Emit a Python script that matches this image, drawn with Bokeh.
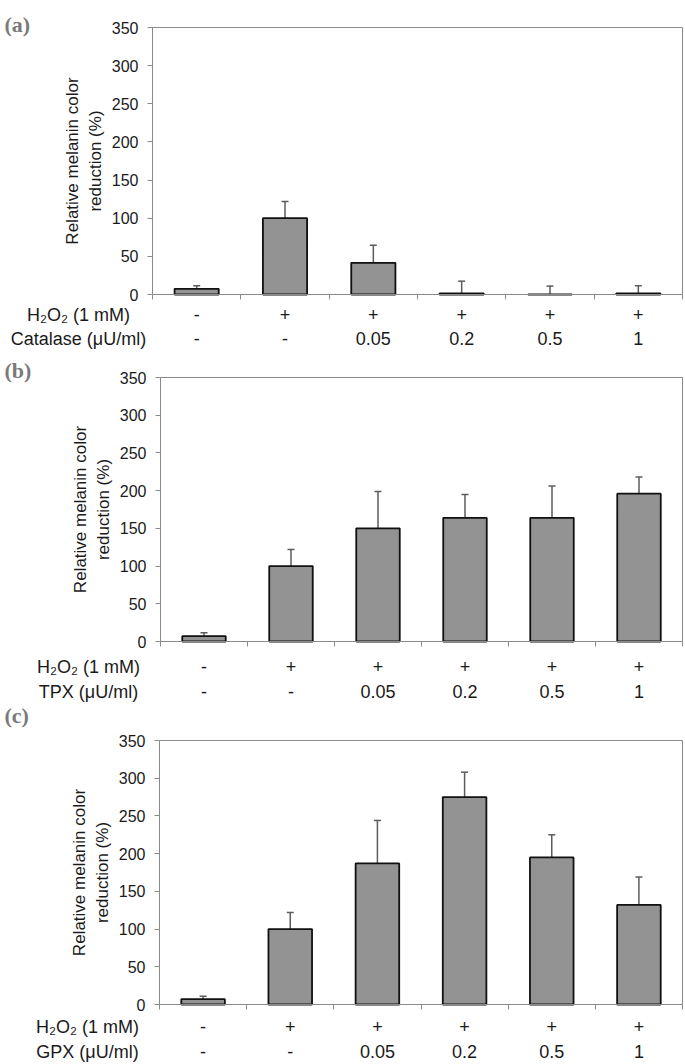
from bokeh.plotting import figure
from bokeh.models import (Range1d, FixedTicker, Whisker, TeeHead, ColumnDataSource,
                          Label, LinearAxis)
from bokeh.layouts import column
from bokeh.embed import file_html
from bokeh.resources import INLINE

# ---------------- data ----------------
h2o2_name = "H₂O₂ (1 mM)"
h2o2_row = ["-", "+", "+", "+", "+", "+"]
dose_row = ["-", "-", "0.05", "0.2", "0.5", "1"]
y_ticks = [0, 50, 100, 150, 200, 250, 300, 350]

catalase_mean = [7.5, 100, 41.5, 1.5, 0, 1.5]
catalase_err = [4, 22, 23, 16, 11, 10]

tpx_mean = [7, 100, 150, 164, 164, 196]
tpx_err = [4.5, 22, 49, 31, 42, 22]

gpx_mean = [7, 100, 187, 275, 195, 132]
gpx_err = [4, 22, 57, 33, 30, 37]

SANS = "Liberation Sans"
W = 685
AXIS_GRAY = "#8a8a8a"
TEXT = "#1a1a1a"


def panel(letter, row_name, mean, err, H, left_px, right_px, top_px, bottom_px,
          row1_standoff, row2_standoff, letter_cy, name_cx):
    n = len(mean)
    ymax = y_ticks[-1]
    kx = (right_px - left_px) / n
    ky = (bottom_px - top_px) / ymax
    x0, x1 = -left_px / kx, n + (W - right_px) / kx
    y0, y1 = -(H - bottom_px) / ky, ymax + top_px / ky

    def px_x(px):
        return (px - left_px) / kx

    def px_y(py):
        return (bottom_px - py) / ky

    xs = [i + 0.5 for i in range(n)]
    src = ColumnDataSource(dict(
        x=xs, top=mean, upper=[m + e for m, e in zip(mean, err)]))

    p = figure(frame_width=W, frame_height=H,
               min_border_left=0, min_border_right=0,
               min_border_top=0, min_border_bottom=0,
               x_range=Range1d(x0, x1), y_range=Range1d(y0, y1),
               x_axis_location=None, y_axis_location=None,
               output_backend="svg", toolbar_location=None)
    p.xgrid.visible = False
    p.ygrid.visible = False
    p.outline_line_color = None

    # y axis
    ya = LinearAxis(ticker=FixedTicker(ticks=y_ticks), fixed_location=0, bounds=(0, ymax),
                    major_tick_out=5, major_tick_in=0, minor_tick_line_color=None,
                    axis_line_color=AXIS_GRAY, major_tick_line_color=AXIS_GRAY,
                    major_label_text_font=SANS, major_label_text_font_size="16px",
                    major_label_text_color=TEXT, major_label_standoff=9,
                    axis_label="Relative melanin color\nreduction (%)",
                    axis_label_text_font=SANS, axis_label_text_font_style="normal",
                    axis_label_text_font_size="17px", axis_label_text_color=TEXT,
                    axis_label_standoff=4)
    p.add_layout(ya, "left")

    # x axis line with category boundary ticks
    xa = LinearAxis(ticker=FixedTicker(ticks=[], minor_ticks=list(range(n + 1))),
                    fixed_location=0, bounds=(0, n),
                    major_tick_line_color=None, minor_tick_out=5, minor_tick_in=0,
                    minor_tick_line_color=AXIS_GRAY, axis_line_color=AXIS_GRAY)
    p.add_layout(xa, "below")

    # frame top and right lines
    p.add_layout(LinearAxis(ticker=FixedTicker(ticks=[]), fixed_location=ymax, bounds=(0, n),
                            axis_line_color=AXIS_GRAY, major_tick_line_color=None,
                            minor_tick_line_color=None), "above")
    p.add_layout(LinearAxis(ticker=FixedTicker(ticks=[]), fixed_location=n, bounds=(0, ymax),
                            axis_line_color=AXIS_GRAY, major_tick_line_color=None,
                            minor_tick_line_color=None), "right")

    # condition rows (as label-only axes)
    name_x = px_x(name_cx)
    for name, row, standoff in ((h2o2_name, h2o2_row, row1_standoff),
                                (row_name, dose_row, row2_standoff)):
        overrides = {name_x: name}
        overrides.update({x: t for x, t in zip(xs, row)})
        p.add_layout(LinearAxis(ticker=FixedTicker(ticks=[name_x] + xs),
                                major_label_overrides=overrides,
                                fixed_location=0, axis_line_color=None,
                                major_tick_line_color=None, minor_tick_line_color=None,
                                major_tick_out=0, major_tick_in=0,
                                major_label_standoff=standoff,
                                major_label_text_font=SANS,
                                major_label_text_font_size="18px",
                                major_label_text_color=TEXT), "below")

    p.vbar(x="x", top="top", bottom=0, width=0.5, source=src,
           fill_color="#939393", line_color="#111111", line_width=1.8)
    p.add_layout(Whisker(source=src, base="x", lower="top", upper="upper",
                         line_color="#5c5c5c", line_width=1.5,
                         upper_head=TeeHead(size=7, line_color="#5c5c5c", line_width=1.5),
                         lower_head=None))

    p.add_layout(Label(x=px_x(4), y=px_y(letter_cy), text=letter,
                       text_align="left", text_baseline="middle",
                       text_font="Liberation Serif", text_font_style="bold",
                       text_font_size="22px", text_color="#7a7a7a"))
    return p


# panel tops on the page: 0, 353, 702 (pixel positions relative to each panel's top)
pa = panel("(a)", "Catalase (μU/ml)", catalase_mean, catalase_err, H=353,
           left_px=152, right_px=682, top_px=27, bottom_px=294,
           row1_standoff=10, row2_standoff=34, letter_cy=24, name_cx=78)
pb = panel("(b)", "TPX (μU/ml)", tpx_mean, tpx_err, H=349,
           left_px=160, right_px=682, top_px=24, bottom_px=288,
           row1_standoff=15, row2_standoff=40, letter_cy=17, name_cx=88)
pc = panel("(c)", "GPX (μU/ml)", gpx_mean, gpx_err, H=362,
           left_px=159, right_px=682, top_px=38, bottom_px=302,
           row1_standoff=12, row2_standoff=37, letter_cy=13, name_cx=87)

layout = column(pa, pb, pc, spacing=0)
open("out.html", "w").write(file_html(layout, INLINE))
